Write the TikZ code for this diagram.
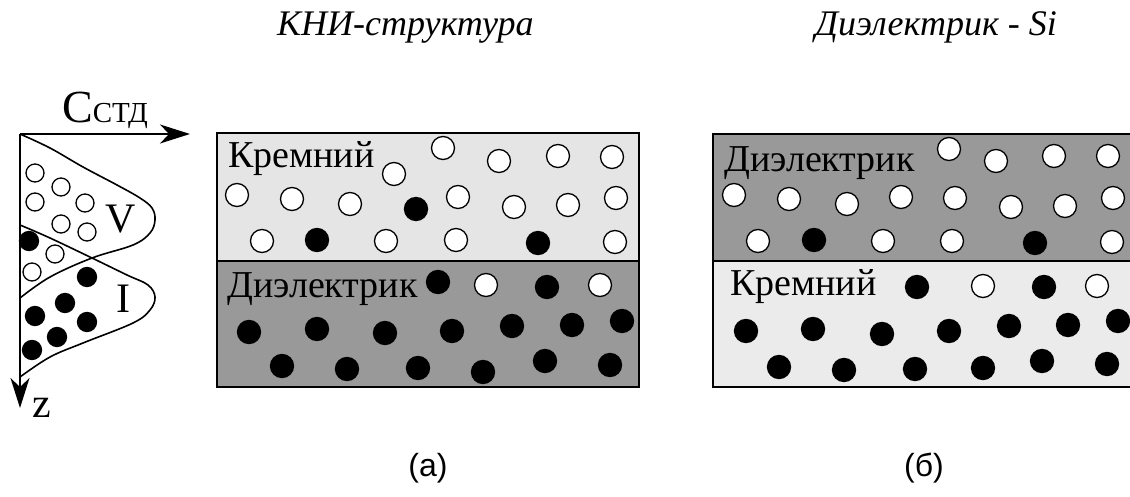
\documentclass[tikz,border=0pt]{standalone}
\usepackage{fontspec}
\setmainfont{Liberation Serif}
\newfontfamily\labfont{Liberation Sans}
\newfontfamily\ttlfont{Liberation Serif Italic}
\usetikzlibrary{arrows.meta}
\definecolor{lightsi}{HTML}{E5E5E5}
\definecolor{lightsib}{HTML}{EBEBEB}
\definecolor{darkdi}{HTML}{999999}
\begin{document}
\begin{tikzpicture}[x=1pt,y=-1pt,
  ov/.style={circle,draw=black,fill=white,line width=1.3pt,minimum size=23pt,inner sep=0pt},
  fv/.style={circle,draw=black,fill=black,line width=1.3pt,minimum size=23pt,inner sep=0pt},
  sov/.style={ov,minimum size=18pt},
  sfv/.style={fv,minimum size=19pt},
  layer/.style={draw=black,line width=1.6pt},
  lbl/.style={anchor=base west,inner sep=0pt,font=\fontsize{38}{40}\selectfont},
  ttl/.style={anchor=base west,inner sep=0pt,font=\ttlfont\fontsize{36}{38}\selectfont},
  sub/.style={anchor=base,inner sep=0pt,font=\labfont\fontsize{32}{34}\selectfont},
  axl/.style={anchor=base west,inner sep=0pt,font=\fontsize{42}{44}\selectfont},
  axarrow/.style={line width=1.6pt,-{Stealth[length=30pt,width=19pt,inset=9pt]}},
  curve/.style={line width=1.6pt}]
\clip (0,0) rectangle (1130,497);

% titles
\node[ttl] (t1) at (277,36) {КНИ-структура};
\node[ttl] (t2) at (815,36) {Диэлектрик - Si};

% left profile
\coordinate (o) at (20,134);
\coordinate (xe) at (190,134);
\coordinate (ze) at (20,408);
\draw[axarrow] (o) -- (xe);
\draw[axarrow] (o) -- (ze);
\node[anchor=base west,inner sep=0pt] (cl) at (62,123) {{\fontsize{46}{46}\selectfont C}{\fontsize{29}{29}\selectfont СТД}};
\node[axl] (zl) at (32,417) {z};
\node[axl] (vl) at (105,233) {V};
\node[axl] (il) at (116,312) {I};
\draw[curve] plot[smooth,tension=0.6] coordinates {(20,134) (50,148) (83,167) (117,185) (140,198) (152,208) (155,220) (150,233) (133,245) (92,258) (50,277) (20,298)};
\draw[curve] plot[smooth,tension=0.6] coordinates {(20,225) (50,238) (92,258) (127,275) (148,285) (155,297) (150,310) (133,323) (83,343) (50,357) (20,377)};
\foreach \x/\y [count=\i] in {35/173,61/187,35/202,85/203,61/224,87/232,55/254,32/272}
  \node[sov] (po\i) at (\x,\y) {};
\foreach \x/\y [count=\i] in {29/241,87/277,65/303,35/316,87/322,57/337,32/350}
  \node[sfv] (pf\i) at (\x,\y) {};

% panel (a)
\filldraw[layer,fill=lightsi] (217,133) rectangle (639,261);
\filldraw[layer,fill=darkdi] (217,261) rectangle (639,387);
\node[lbl] (a1) at (228,168) {Кремний};
\node[lbl] (a2) at (227,298) {Диэлектрик};
\foreach \x/\y [count=\i] in {443/148,499/161,558/156,612/157,394/174,237/195,292/199,350/204,458/197,514/207,568/205,616/198,262/241,386/241,456/240,615/242,486/285,600/285}
  \node[ov] (ao\i) at (\x,\y) {};
\foreach \x/\y [count=\i] in {416/209,317/240,538/243,438/282,547/287,249/332,317/329,385/333,452/331,512/326,572/325,622/321,282/366,347/369,418/368,483/372,545/361,610/365}
  \node[fv] (af\i) at (\x,\y) {};

% panel (b)
\filldraw[layer,fill=darkdi] (713,134) rectangle (1140,261);
\filldraw[layer,fill=lightsib] (713,261) rectangle (1140,387);
\node[lbl] (b1) at (724,172) {Диэлектрик};
\node[lbl] (b2) at (730,295) {Кремний};
\foreach \x/\y [count=\i] in {949/149,996/161,1054/156,1108/156,734/195,789/199,847/204,901/197,955/198,1011/207,1065/206,1113/198,758/241,883/241,952/241,1112/242,983/286,1097/286}
  \node[ov] (bo\i) at (\x,\y) {};
\foreach \x/\y [count=\i] in {814/240,1035/243,917/287,1044/287,746/331,813/329,882/334,949/331,1009/326,1068/325,1118/321,779/367,844/370,915/369,983/368,1042/361,1107/364}
  \node[fv] (bf\i) at (\x,\y) {};

% sub captions
\node[sub] (ca) at (428,476) {(а)};
\node[sub] (cb) at (924,476) {(б)};
\end{tikzpicture}
\end{document}
